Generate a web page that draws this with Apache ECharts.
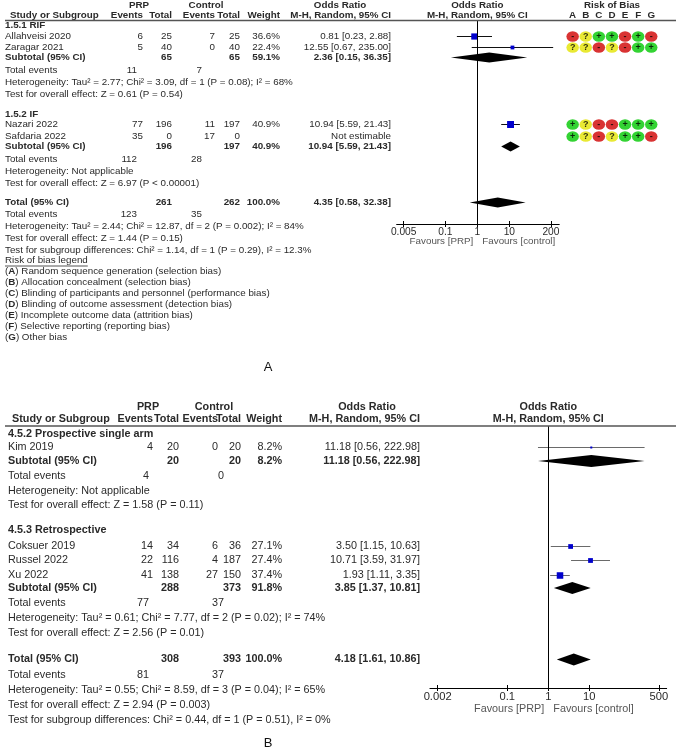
<!DOCTYPE html>
<html>
<head>
<meta charset="utf-8">
<script src="https://cdn.jsdelivr.net/npm/echarts@6/dist/echarts.min.js"></script>
<style>html,body{margin:0;padding:0;background:#fff}#c{width:676px;height:753px}</style>
</head>
<body>
<div id="c"></div>
<script>
// ================= DATA: Panel A =================
const A_groupNames = ['1.5.1 RIF', '1.5.2 IF'];
const A_names = ['Allahveisi 2020', 'Zaragar 2021', 'Nazari 2022', 'Safdaria 2022'];
const A_prpEv = [6, 5, 77, 35];
const A_prpN = [25, 40, 196, 0];
const A_ctlEv = [7, 0, 11, 17];
const A_ctlN = [25, 40, 197, 0];
const A_weight = [36.6, 22.4, 40.9, null];
const A_or = [0.81, 12.55, 10.94, null];
const A_lo = [0.23, 0.67, 5.59, null];
const A_hi = [2.88, 235.00, 21.43, null];
const A_subPrpN = [65, 196];
const A_subCtlN = [65, 197];
const A_subWeight = [59.1, 40.9];
const A_subOr = [2.36, 10.94];
const A_subLo = [0.15, 5.59];
const A_subHi = [36.35, 21.43];
const A_subPrpEv = [11, 112];
const A_subCtlEv = [7, 28];
const A_subHet = ['Heterogeneity: Tau² = 2.77; Chi² = 3.09, df = 1 (P = 0.08); I² = 68%', 'Heterogeneity: Not applicable'];
const A_subTest = ['Test for overall effect: Z = 0.61 (P = 0.54)', 'Test for overall effect: Z = 6.97 (P < 0.00001)'];
const A_totN = [261, 262];
const A_totWeight = 100.0;
const A_totOr = [4.35, 0.58, 32.38];
const A_totEv = [123, 35];
const A_totStats = ['Heterogeneity: Tau² = 2.44; Chi² = 12.87, df = 2 (P = 0.002); I² = 84%',
  'Test for overall effect: Z = 1.44 (P = 0.15)',
  'Test for subgroup differences: Chi² = 1.14, df = 1 (P = 0.29), I² = 12.3%'];
const A_ticks = [0.005, 0.1, 1, 10, 200];
const A_favours = ['Favours [PRP]', 'Favours [control]'];
const ROB_domains = ['A', 'B', 'C', 'D', 'E', 'F', 'G'];
const A_rob = [
  ['-', '?', '+', '+', '-', '+', '-'],
  ['?', '?', '-', '?', '-', '+', '+'],
  ['+', '?', '-', '-', '+', '+', '+'],
  ['+', '?', '-', '?', '+', '+', '-']
];
const ROB_legend = [
  'Random sequence generation (selection bias)',
  'Allocation concealment (selection bias)',
  'Blinding of participants and personnel (performance bias)',
  'Blinding of outcome assessment (detection bias)',
  'Incomplete outcome data (attrition bias)',
  'Selective reporting (reporting bias)',
  'Other bias'
];

// ================= DATA: Panel B =================
const B_groupNames = ['4.5.2 Prospective single arm', '4.5.3 Retrospective'];
const B_names = ['Kim 2019', 'Coksuer 2019', 'Russel 2022', 'Xu 2022'];
const B_prpEv = [4, 14, 22, 41];
const B_prpN = [20, 34, 116, 138];
const B_ctlEv = [0, 6, 4, 27];
const B_ctlN = [20, 36, 187, 150];
const B_weight = [8.2, 27.1, 27.4, 37.4];
const B_or = [11.18, 3.50, 10.71, 1.93];
const B_lo = [0.56, 1.15, 3.59, 1.11];
const B_hi = [222.98, 10.63, 31.97, 3.35];
const B_subPrpN = [20, 288];
const B_subCtlN = [20, 373];
const B_subWeight = [8.2, 91.8];
const B_subOr = [11.18, 3.85];
const B_subLo = [0.56, 1.37];
const B_subHi = [222.98, 10.81];
const B_subPrpEv = [4, 77];
const B_subCtlEv = [0, 37];
const B_subHet = ['Heterogeneity: Not applicable', 'Heterogeneity: Tau² = 0.61; Chi² = 7.77, df = 2 (P = 0.02); I² = 74%'];
const B_subTest = ['Test for overall effect: Z = 1.58 (P = 0.11)', 'Test for overall effect: Z = 2.56 (P = 0.01)'];
const B_totN = [308, 393];
const B_totWeight = 100.0;
const B_totOr = [4.18, 1.61, 10.86];
const B_totEv = [81, 37];
const B_totStats = ['Heterogeneity: Tau² = 0.55; Chi² = 8.59, df = 3 (P = 0.04); I² = 65%',
  'Test for overall effect: Z = 2.94 (P = 0.003)',
  'Test for subgroup differences: Chi² = 0.44, df = 1 (P = 0.51), I² = 0%'];
const B_ticks = [0.002, 0.1, 1, 10, 500];
const B_favours = ['Favours [PRP]', 'Favours [control]'];

// ================= LAYOUT (positions / styles) =================
const FONT = '"Liberation Sans", Arial, Helvetica, sans-serif';
const INK = '#2a2a2a';
const LAY_A = {
  fs: 9.8,
  y: { h1: 5, h2: 15.5, line: 20.5, group: [25.5, 114], study: [36.5, 47.5, 124.5, 136.5], sub: [57.5, 146.5],
       ev: [70, 159], het: [82, 171], test: [94, 183], total: 202.5, tev: 214, tstats: [226, 238, 250], axis: 224,
       legTitle: 260, leg0: 271, legStep: 11, label: 367, favours: 241.5 },
  x: { name: 5, head: 10, prpEv: 143, prpN: 172, ctlEv: 215, ctlN: 240, weight: 280, or: 391,
       tevPrp: 137, tevCtl: 202, prpHead: 139, ctlHead: 206, orHead: 340, forest: 477.3, rob: 612, label: 268 },
  decade: 32, logHalf: [2.52, 2.56], lineCol: '#111', sq: 0.17, dh: 10
};
const LAY_B = {
  fs: 10.8,
  y: { h1: 407, h2: 419.5, line: 426, group: [434.5, 530], study: [447.5, 546.5, 560.5, 575.5], sub: [461, 588],
       ev: [476, 603], het: [491, 618], test: [505, 633], total: 659.5, tev: 675, tstats: [690, 705, 720], axis: 688,
       label: 743, favours: 709.5 },
  x: { name: 8, head: 12, prpEv: 153, prpN: 179, ctlEv: 218, ctlN: 241, weight: 282, or: 420,
       tevPrp: 149, tevCtl: 224, prpHead: 148, ctlHead: 214, orHead: 367, forest: 548.3, label: 268 },
  decade: 41, logHalf: [2.887, 2.887], lineCol: '#6a6a6a', sq: 0.175, dh: 12
};

// ================= helpers =================
const mctx = document.createElement('canvas').getContext('2d');
function measure(s, size, bold) { mctx.font = (bold ? 'bold ' : '') + size + 'px ' + FONT; return mctx.measureText(s).width; }
const G = [];
function T(x, y, s, size, o) {
  o = o || {};
  const st = { text: s, fill: o.color || INK, fontSize: size, fontFamily: FONT, fontWeight: o.bold ? 'bold' : 'normal',
    align: o.align || 'left', verticalAlign: 'middle' };
  if (o.rich) st.rich = o.rich;
  G.push({ type: 'text', x: x, y: y, silent: true, z: 10, style: st });
}
function L(x1, y1, x2, y2, color, w) {
  G.push({ type: 'line', silent: true, z: 10, shape: { x1: x1, y1: y1, x2: x2, y2: y2 }, style: { stroke: color, lineWidth: w } });
}
const f2 = v => v.toFixed(2);
const orTxt = (o, l, h) => o == null ? 'Not estimable' : f2(o) + ' [' + f2(l) + ', ' + f2(h) + ']';
const wTxt = w => w == null ? '' : w.toFixed(1) + '%';

function panelTable(P, d) {
  const fs = P.fs, X = P.x, Y = P.y;
  // headers
  T(X.prpHead, Y.h1, 'PRP', fs, { bold: 1, align: 'center' });
  T(X.ctlHead, Y.h1, 'Control', fs, { bold: 1, align: 'center' });
  T(X.orHead, Y.h1, 'Odds Ratio', fs, { bold: 1, align: 'center' });
  T(X.forest, Y.h1, 'Odds Ratio', fs, { bold: 1, align: 'center' });
  T(X.head, Y.h2, 'Study or Subgroup', fs, { bold: 1 });
  T(X.prpEv, Y.h2, 'Events', fs, { bold: 1, align: 'right' });
  T(X.prpN, Y.h2, 'Total', fs, { bold: 1, align: 'right' });
  T(X.ctlEv, Y.h2, 'Events', fs, { bold: 1, align: 'right' });
  T(X.ctlN, Y.h2, 'Total', fs, { bold: 1, align: 'right' });
  T(X.weight, Y.h2, 'Weight', fs, { bold: 1, align: 'right' });
  T(X.or, Y.h2, 'M-H, Random, 95% CI', fs, { bold: 1, align: 'right' });
  T(X.forest, Y.h2, 'M-H, Random, 95% CI', fs, { bold: 1, align: 'center' });
  L(5, Y.line, 676, Y.line, '#555', 1.3);
  // studies
  d.names.forEach((n, i) => {
    const y = Y.study[i];
    T(X.name, y, n, fs);
    T(X.prpEv, y, String(d.prpEv[i]), fs, { align: 'right' });
    T(X.prpN, y, String(d.prpN[i]), fs, { align: 'right' });
    T(X.ctlEv, y, String(d.ctlEv[i]), fs, { align: 'right' });
    T(X.ctlN, y, String(d.ctlN[i]), fs, { align: 'right' });
    T(X.weight, y, wTxt(d.weight[i]), fs, { align: 'right' });
    T(X.or, y, orTxt(d.or[i], d.lo[i], d.hi[i]), fs, { align: 'right' });
  });
  // groups
  d.groups.forEach((g, k) => {
    T(X.name, Y.group[k], g, fs, { bold: 1 });
    const ys = Y.sub[k];
    T(X.name, ys, 'Subtotal (95% CI)', fs, { bold: 1 });
    T(X.prpN, ys, String(d.subPrpN[k]), fs, { bold: 1, align: 'right' });
    T(X.ctlN, ys, String(d.subCtlN[k]), fs, { bold: 1, align: 'right' });
    T(X.weight, ys, wTxt(d.subW[k]), fs, { bold: 1, align: 'right' });
    T(X.or, ys, orTxt(d.subOr[k], d.subLo[k], d.subHi[k]), fs, { bold: 1, align: 'right' });
    T(X.name, Y.ev[k], 'Total events', fs);
    T(X.tevPrp, Y.ev[k], String(d.subPrpEv[k]), fs, { align: 'right' });
    T(X.tevCtl, Y.ev[k], String(d.subCtlEv[k]), fs, { align: 'right' });
    T(X.name, Y.het[k], d.subHet[k], fs);
    T(X.name, Y.test[k], d.subTest[k], fs);
  });
  // total
  T(X.name, Y.total, 'Total (95% CI)', fs, { bold: 1 });
  T(X.prpN, Y.total, String(d.totN[0]), fs, { bold: 1, align: 'right' });
  T(X.ctlN, Y.total, String(d.totN[1]), fs, { bold: 1, align: 'right' });
  T(X.weight, Y.total, wTxt(d.totW), fs, { bold: 1, align: 'right' });
  T(X.or, Y.total, orTxt(d.totOr[0], d.totOr[1], d.totOr[2]), fs, { bold: 1, align: 'right' });
  T(X.name, Y.tev, 'Total events', fs);
  T(X.tevPrp, Y.tev, String(d.totEv[0]), fs, { align: 'right' });
  T(X.tevCtl, Y.tev, String(d.totEv[1]), fs, { align: 'right' });
  d.totStats.forEach((s, k) => T(X.name, Y.tstats[k], s, fs));
  // favours
  T(X.forest - 4, Y.favours, d.favours[0], fs, { align: 'right', color: '#555' });
  T(X.forest + 5, Y.favours, d.favours[1], fs, { color: '#555' });
}

const dataA = { names: A_names, prpEv: A_prpEv, prpN: A_prpN, ctlEv: A_ctlEv, ctlN: A_ctlN, weight: A_weight,
  or: A_or, lo: A_lo, hi: A_hi, groups: A_groupNames, subPrpN: A_subPrpN, subCtlN: A_subCtlN, subW: A_subWeight,
  subOr: A_subOr, subLo: A_subLo, subHi: A_subHi, subPrpEv: A_subPrpEv, subCtlEv: A_subCtlEv, subHet: A_subHet,
  subTest: A_subTest, totN: A_totN, totW: A_totWeight, totOr: A_totOr, totEv: A_totEv, totStats: A_totStats, favours: A_favours };
const dataB = { names: B_names, prpEv: B_prpEv, prpN: B_prpN, ctlEv: B_ctlEv, ctlN: B_ctlN, weight: B_weight,
  or: B_or, lo: B_lo, hi: B_hi, groups: B_groupNames, subPrpN: B_subPrpN, subCtlN: B_subCtlN, subW: B_subWeight,
  subOr: B_subOr, subLo: B_subLo, subHi: B_subHi, subPrpEv: B_subPrpEv, subCtlEv: B_subCtlEv, subHet: B_subHet,
  subTest: B_subTest, totN: B_totN, totW: B_totWeight, totOr: B_totOr, totEv: B_totEv, totStats: B_totStats, favours: B_favours };

panelTable(LAY_A, dataA);
panelTable(LAY_B, dataB);

// Risk of bias header + legend
T(LAY_A.x.rob, LAY_A.y.h1, 'Risk of Bias', LAY_A.fs, { bold: 1, align: 'center' });
T(5, LAY_A.y.legTitle, 'Risk of bias legend', LAY_A.fs);
L(5, LAY_A.y.legTitle + 6, 5 + measure('Risk of bias legend', LAY_A.fs, false), LAY_A.y.legTitle + 6, INK, 0.8);
ROB_legend.forEach((s, k) => {
  T(5, LAY_A.y.leg0 + k * LAY_A.y.legStep, '({b|' + ROB_domains[k] + '}) ' + s, LAY_A.fs,
    { rich: { b: { fontWeight: 'bold', fontSize: LAY_A.fs, fontFamily: FONT, fill: INK } } });
});
T(LAY_A.x.label, LAY_A.y.label, 'A', 13, { align: 'center', color: '#111' });
T(LAY_B.x.label, LAY_B.y.label, 'B', 13, { align: 'center', color: '#111' });

// ================= series data for marks =================
function studyData(d, P) {
  const out = [];
  d.names.forEach((n, i) => { if (d.or[i] != null) out.push([d.or[i], d.lo[i], d.hi[i], P.y.study[i], d.weight[i]]); });
  return out;
}
function diamondData(d, P) {
  const out = d.groups.map((g, k) => [d.subOr[k], d.subLo[k], d.subHi[k], P.y.sub[k]]);
  out.push([d.totOr[0], d.totOr[1], d.totOr[2], P.y.total]);
  return out;
}
function studyRender(P) {
  return function (params, api) {
    const y = api.value(3);
    const a = api.coord([api.value(1), y]);
    const b = api.coord([api.value(2), y]);
    const c = api.coord([api.value(0), y]);
    const s = Math.max(2, api.value(4) * P.sq);
    return { type: 'group', children: [
      { type: 'line', shape: { x1: a[0], y1: a[1], x2: b[0], y2: b[1] }, style: { stroke: P.lineCol, lineWidth: 1 } },
      { type: 'rect', shape: { x: c[0] - s / 2, y: c[1] - s / 2, width: s, height: s }, style: { fill: '#0000cc' } }
    ] };
  };
}
function diamondRender(P) {
  return function (params, api) {
    const y = api.value(3);
    const a = api.coord([api.value(1), y]);
    const b = api.coord([api.value(2), y]);
    const c = api.coord([api.value(0), y]);
    const h = P.dh / 2;
    return { type: 'polygon', shape: { points: [[a[0], a[1]], [c[0], c[1] - h], [b[0], b[1]], [c[0], c[1] + h]] },
      style: { fill: '#000' } };
  };
}

const ROB_COLORS = { '+': '#00c800', '-': '#d00000', '?': '#e3e300' };
const robData = [];
A_rob.forEach((row, i) => row.forEach((v, j) => {
  robData.push({ value: [ROB_domains[j], LAY_A.y.study[i], v], itemStyle: { color: ROB_COLORS[v] } });
}));

function logAxis(P, gi, ticks, show) {
  return {
    type: 'log', logBase: 10, gridIndex: gi, position: 'bottom',
    min: Math.pow(10, -P.logHalf[0]), max: Math.pow(10, P.logHalf[1]),
    axisLine: { show: show, onZero: false, lineStyle: { color: '#000', width: 1 } },
    axisTick: { show: true, customValues: ticks, inside: !show, length: 3, lineStyle: { color: '#000', width: 1 } },
    axisLabel: { show: show, customValues: ticks, formatter: v => String(v), fontSize: P.fs + 0.4, color: INK, fontFamily: FONT, margin: 3 },
    minorTick: { show: false }, splitLine: { show: false }
  };
}
function gridFor(P, top) {
  const left = P.x.forest - P.logHalf[0] * P.decade;
  return { left: left, width: (P.logHalf[0] + P.logHalf[1]) * P.decade, top: top, height: P.y.axis - top };
}

const option = {
  animation: false,
  backgroundColor: '#fff',
  grid: [
    gridFor(LAY_A, LAY_A.y.line),
    gridFor(LAY_B, LAY_B.y.line),
    { left: 566.1, width: 91.7, top: LAY_A.y.line, height: LAY_A.y.axis - LAY_A.y.line }
  ],
  xAxis: [
    logAxis(LAY_A, 0, A_ticks, true),
    logAxis(LAY_A, 0, A_ticks, false),
    logAxis(LAY_B, 1, B_ticks, true),
    logAxis(LAY_B, 1, B_ticks, false),
    { type: 'category', gridIndex: 2, data: ROB_domains, position: 'top', boundaryGap: true,
      axisLine: { show: false }, axisTick: { show: false },
      axisLabel: { fontSize: LAY_A.fs, fontWeight: 'bold', color: INK, fontFamily: FONT, margin: 0 } }
  ],
  yAxis: [
    { type: 'value', gridIndex: 0, inverse: true, min: LAY_A.y.line, max: LAY_A.y.axis, show: false },
    { type: 'value', gridIndex: 1, inverse: true, min: LAY_B.y.line, max: LAY_B.y.axis, show: false },
    { type: 'value', gridIndex: 2, inverse: true, min: LAY_A.y.line, max: LAY_A.y.axis, show: false }
  ],
  series: [
    { type: 'custom', xAxisIndex: 0, yAxisIndex: 0, data: studyData(dataA, LAY_A), renderItem: studyRender(LAY_A),
      encode: { x: [0, 1, 2], y: 3 }, z: 3,
      markLine: { silent: true, symbol: ['none', 'none'], label: { show: false },
        lineStyle: { type: 'solid', color: '#000', width: 1 }, data: [{ xAxis: 1 }] } },
    { type: 'custom', xAxisIndex: 0, yAxisIndex: 0, data: diamondData(dataA, LAY_A), renderItem: diamondRender(LAY_A),
      encode: { x: [0, 1, 2], y: 3 }, z: 4 },
    { type: 'custom', xAxisIndex: 2, yAxisIndex: 1, data: studyData(dataB, LAY_B), renderItem: studyRender(LAY_B),
      encode: { x: [0, 1, 2], y: 3 }, z: 3,
      markLine: { silent: true, symbol: ['none', 'none'], label: { show: false },
        lineStyle: { type: 'solid', color: '#000', width: 1 }, data: [{ xAxis: 1 }] } },
    { type: 'custom', xAxisIndex: 2, yAxisIndex: 1, data: diamondData(dataB, LAY_B), renderItem: diamondRender(LAY_B),
      encode: { x: [0, 1, 2], y: 3 }, z: 4 },
    { type: 'scatter', xAxisIndex: 4, yAxisIndex: 2, data: robData, symbol: 'circle', symbolSize: [12.5, 10.5],
      label: { show: true, position: 'inside', formatter: p => p.value[2], fontSize: 9, fontWeight: 'bold', color: '#000', fontFamily: FONT } }
  ],
  graphic: G
};
const chart = echarts.init(document.getElementById('c'));
chart.setOption(option);
</script>
</body>
</html>
